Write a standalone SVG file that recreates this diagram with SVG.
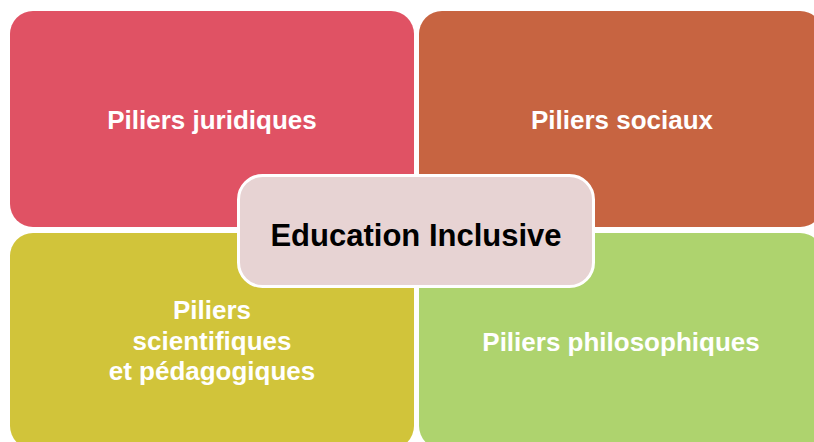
<svg xmlns="http://www.w3.org/2000/svg" width="814" height="442" viewBox="0 0 814 442">
<style>
.q{stroke:none}
.t{font-family:"Liberation Sans",Arial,sans-serif;font-weight:bold;fill:#ffffff;font-size:26px;text-anchor:middle}
.c{font-family:"Liberation Sans",Arial,sans-serif;font-weight:bold;fill:#000000;font-size:31px;text-anchor:middle}
</style>
<rect width="814" height="442" fill="#ffffff"/>
<g id="juridiques">
<rect class="q" x="10" y="11" width="404" height="216" rx="23" fill="#E05264"/>
<text class="t" x="212" y="129">Piliers juridiques</text>
</g>
<g id="sociaux">
<rect class="q" x="419" y="11" width="404" height="216" rx="23" fill="#C76441"/>
<text class="t" x="622" y="129">Piliers sociaux</text>
</g>
<g id="scientifiques">
<rect class="q" x="10" y="233" width="404" height="216" rx="23" fill="#D1C43A"/>
<text class="t" x="212" y="319">Piliers</text>
<text class="t" x="212" y="350">scientifiques</text>
<text class="t" x="212" y="380">et pédagogiques</text>
</g>
<g id="philosophiques">
<rect class="q" x="419" y="233" width="404" height="216" rx="23" fill="#AED36E"/>
<text class="t" x="621" y="351">Piliers philosophiques</text>
</g>
<g id="education">
<rect x="238.5" y="175.5" width="355" height="111" rx="24" fill="#E7D3D3" stroke="#ffffff" stroke-width="3"/>
<text class="c" x="416" y="246">Education Inclusive</text>
</g>
<g id="connectors"></g>
</svg>
